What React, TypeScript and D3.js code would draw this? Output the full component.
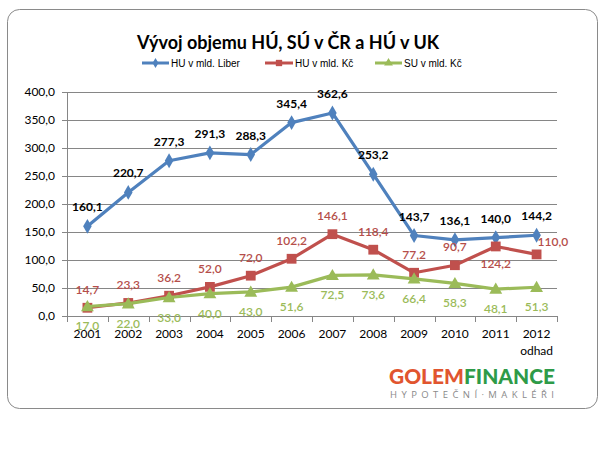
import React from 'react';
import * as d3 from 'd3';

const years = ['2001','2002','2003','2004','2005','2006','2007','2008','2009','2010','2011','2012'];
const liber = [160.1,220.7,277.3,291.3,288.3,345.4,362.6,253.2,143.7,136.1,140.0,144.2];
const kc = [14.7,23.3,36.2,52.0,72.0,102.2,146.1,118.4,77.2,90.7,124.2,110.0];
const su = [17.0,22.0,33.0,40.0,43.0,51.6,72.5,73.6,66.4,58.3,48.1,51.3];
const yTicks = [0,50,100,150,200,250,300,350,400];
const seriesNames = ['HU v mld. Liber','HU v mld. Kč','SU v mld. Kč'];
const title = 'Vývoj objemu HÚ, SÚ v ČR a HÚ v UK';

const BLUE = '#4F81BD';
const RED = '#C0504D';
const GREEN = '#9BBB59';
const FONT = 'Lato, "Open Sans", sans-serif';

const fmt = (v: number) => d3.format('.1f')(v).replace('.', ',');

export default function App() {
  const x = d3.scaleBand<string>().domain(years).range([67, 557]);
  const y = d3.scaleLinear().domain([0, 400]).range([316, 92]);
  const cx = (yr: string) => (x(yr) as number) + x.bandwidth() / 2;
  const line = d3.line<[string, number]>().x(d => cx(d[0])).y(d => y(d[1]));
  const pts = (arr: number[]) => years.map((yr, i) => [yr, arr[i]] as [string, number]);

  const diamond = d3.symbol().type(d3.symbolDiamond).size(64)();
  const square = d3.symbol().type(d3.symbolSquare).size(96)();
  const triangle = d3.symbol().type(d3.symbolTriangle).size(72)();

  // label placements for red series
  const redPos = (i: number) => {
    if (years[i] === '2011') return { dx: 0, dy: 22, anchor: 'middle' };
    if (years[i] === '2012') return { dx: 1, dy: -8, anchor: 'start' };
    return { dx: 0, dy: -14, anchor: 'middle' };
  };

  const boundaries = years.map(yr => x(yr) as number).concat([557]);

  return (
    <svg width={608} height={460} style={{ position: 'absolute', left: 0, top: 0, background: '#fff' }}>
      <rect x={0} y={0} width={608} height={460} fill="#fff" />
      <rect x={7.5} y={9.5} width={590} height={399} rx={12} ry={12} fill="#fff" stroke="#8a8a8a" strokeWidth={1} />

      <text x={288} y={49} textAnchor="middle" fontFamily={FONT} fontWeight="bold" fontSize={18} fill="#000">{title}</text>

      {/* legend */}
      <g fontFamily='"Liberation Sans", Arial, sans-serif' fontSize={10} fill="#000">
        <line x1={142} x2={169} y1={63} y2={63} stroke={BLUE} strokeWidth={3} />
        <path d={d3.symbol().type(d3.symbolDiamond).size(30)()!} transform="translate(155.5,63)" fill={BLUE} />
        <text x={171} y={66.5}>{seriesNames[0]}</text>
        <line x1={265} x2={293} y1={63} y2={63} stroke={RED} strokeWidth={3} />
        <path d={d3.symbol().type(d3.symbolSquare).size(40)()!} transform="translate(279,63)" fill={RED} />
        <text x={295} y={66.5}>{seriesNames[1]}</text>
        <line x1={375} x2={402} y1={63} y2={63} stroke={GREEN} strokeWidth={3} />
        <path d={d3.symbol().type(d3.symbolTriangle).size(34)()!} transform="translate(388.5,63)" fill={GREEN} />
        <text x={404} y={66.5}>{seriesNames[2]}</text>
      </g>

      {/* gridlines */}
      {yTicks.map(t => (
        <line key={t} x1={62} x2={557} y1={Math.round(y(t)) + 0.5} y2={Math.round(y(t)) + 0.5} stroke="#868686" strokeWidth={1} />
      ))}
      <line x1={67.5} x2={67.5} y1={92} y2={316} stroke="#868686" />
      {boundaries.map((b, i) => (
        <line key={i} x1={Math.round(b) + 0.5} x2={Math.round(b) + 0.5} y1={316} y2={322} stroke="#868686" />
      ))}

      {/* y labels */}
      <g fontFamily={FONT} fontSize={12} fill="#000" textAnchor="end">
        {yTicks.map(t => (
          <text key={t} x={55} y={y(t) + 4}>{fmt(t)}</text>
        ))}
      </g>

      {/* lines */}
      <path d={line(pts(liber))!} fill="none" stroke={BLUE} strokeWidth={3.2} strokeLinejoin="round" />
      {liber.map((v, i) => <path key={i} d={diamond!} transform={`translate(${cx(years[i])},${y(v)})`} fill={BLUE} />)}
      <path d={line(pts(kc))!} fill="none" stroke={RED} strokeWidth={3.2} strokeLinejoin="round" />
      {kc.map((v, i) => <path key={i} d={square!} transform={`translate(${cx(years[i])},${y(v)})`} fill={RED} />)}
      <path d={line(pts(su))!} fill="none" stroke={GREEN} strokeWidth={3.2} strokeLinejoin="round" />
      {su.map((v, i) => <path key={i} d={triangle!} transform={`translate(${cx(years[i])},${y(v) + 1})`} fill={GREEN} />)}

      {/* data labels */}
      <g fontFamily={FONT} fontSize={12}>
        {liber.map((v, i) => (
          <text key={i} x={cx(years[i])} y={y(v) - 15} textAnchor="middle" fontWeight="bold" fill="#000">{fmt(v)}</text>
        ))}
        {kc.map((v, i) => {
          const p = redPos(i);
          return <text key={i} x={cx(years[i]) + p.dx} y={y(v) + p.dy} textAnchor={p.anchor as any} fontWeight={600} fill="#B54E4A">{fmt(v)}</text>;
        })}
        {su.map((v, i) => (
          <text key={i} x={cx(years[i])} y={y(v) + 24} textAnchor="middle" fontWeight={600} fill="#9BBB59">{fmt(v)}</text>
        ))}
      </g>

      {/* x labels */}
      <g fontFamily={FONT} fontSize={12} fill="#000" textAnchor="middle">
        {years.map(yr => (
          <text key={yr} x={cx(yr)} y={338}>{yr}</text>
        ))}
        <text x={cx('2012')} y={355}>odhad</text>
      </g>

      {/* logo */}
      <text x={389} y={384} fontFamily={FONT} fontWeight={900} fontSize={21} textLength={166} lengthAdjust="spacingAndGlyphs">
        <tspan fill="#E1552F">GOLEM</tspan><tspan fill="#2E9B48">FINANCE</tspan>
      </text>
      <text x={390} y={398} fontFamily='"Open Sans", sans-serif' fontSize={9.5} fill="#8a8a8a" textLength={164} lengthAdjust="spacing">HYPOTEČNÍ·MAKLÉŘI</text>
    </svg>
  );
}
